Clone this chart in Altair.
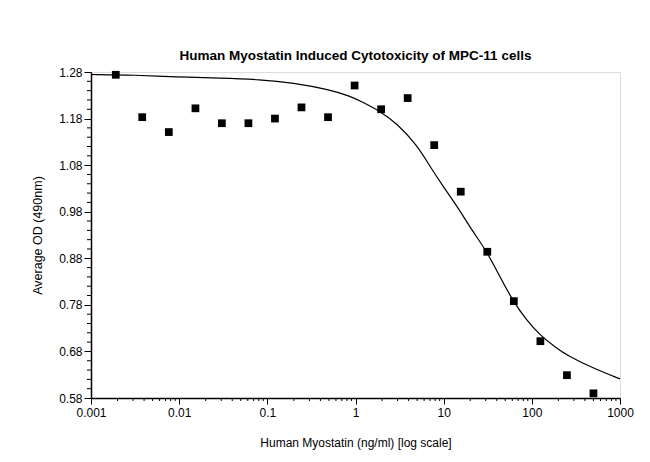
import altair as alt
import pandas as pd

# Measured points (serial dilution, ng/ml) and average OD
conc = [0.00191, 0.00381, 0.00763, 0.0153, 0.0305, 0.061, 0.122, 0.244, 0.488,
        0.977, 1.953, 3.906, 7.8125, 15.625, 31.25, 62.5, 125, 250, 500]
od = [1.274, 1.183, 1.151, 1.202, 1.170, 1.170, 1.180, 1.204, 1.183,
      1.251, 1.200, 1.224, 1.123, 1.023, 0.894, 0.788, 0.702, 0.629, 0.590]

# Fitted curve
curve_x = [0.001, 0.00316, 0.00944, 0.029, 0.0826, 0.195, 0.514, 0.866, 1.124,
           1.897, 2.93, 4.94, 7.0, 9.91, 14.66, 20.8, 30.8, 43.5, 61.7, 87.4,
           123.6, 191.3, 250.6, 493, 1000]
curve_y = [1.2746, 1.2736, 1.2693, 1.2671, 1.2639, 1.257, 1.242, 1.228, 1.218,
           1.196, 1.170, 1.124, 1.077, 1.034, 0.988, 0.941, 0.895, 0.840, 0.787,
           0.747, 0.715, 0.687, 0.672, 0.644, 0.621]

x_major = [0.001, 0.01, 0.1, 1, 10, 100, 1000]
x_minor = [k * d for d in [0.001, 0.01, 0.1, 1, 10, 100] for k in range(2, 10)]
y_major = [0.58, 0.68, 0.78, 0.88, 0.98, 1.08, 1.18, 1.28]
y_minor = [round(0.58 + 0.02 * i, 2) for i in range(36) if i % 5 != 0]

W, H = 529, 326
FONT = "Liberation Sans"

pts = pd.DataFrame({"conc": conc, "od": od})
crv = pd.DataFrame({"conc": curve_x, "od": curve_y})
xmin = pd.DataFrame({"v": x_minor})
ymin = pd.DataFrame({"v": y_minor})

xscale = alt.Scale(type="log", domain=[0.001, 1000], nice=False)
yscale = alt.Scale(domain=[0.58, 1.28], nice=False, zero=False)

xaxis = alt.Axis(values=x_major,
                 labelExpr="datum.value >= 1 ? format(datum.value, 'd') : format(datum.value, '')",
                 title="Human Myostatin (ng/ml) [log scale]", grid=False,
                 tickSize=6, labelPadding=3, titlePadding=19, labelFontSize=12,
                 titleFontSize=12, titleFontWeight="normal", labelFont=FONT, titleFont=FONT,
                 domainColor="#000", tickColor="#000", labelColor="#000", titleColor="#000",
                 domainWidth=1.5, labelFlush=False)
yaxis = alt.Axis(values=y_major, format=".2f", title="Average OD (490nm)", grid=False,
                 tickSize=7, labelPadding=2, titlePadding=14, labelFontSize=12,
                 titleFontSize=12.5, titleFontWeight="normal", labelFont=FONT, titleFont=FONT,
                 domainColor="#000", tickColor="#000", labelColor="#000", titleColor="#000",
                 domainWidth=1.5, labelFlush=False)

points = alt.Chart(pts).mark_square(size=60, color="#000", opacity=1).encode(
    x=alt.X("conc:Q", scale=xscale, axis=xaxis),
    y=alt.Y("od:Q", scale=yscale, axis=yaxis),
)
line = alt.Chart(crv).mark_line(color="#000", strokeWidth=1.2, interpolate="basis").encode(
    x=alt.X("conc:Q", scale=xscale),
    y=alt.Y("od:Q", scale=yscale),
)
xticks = alt.Chart(xmin).mark_rule(color="#000", strokeWidth=1).encode(
    x=alt.X("v:Q", scale=xscale),
    y=alt.value(H),
    y2=alt.value(H + 3),
)
yticks = alt.Chart(ymin).mark_rule(color="#000", strokeWidth=1).encode(
    y=alt.Y("v:Q", scale=yscale),
    x=alt.value(-4),
    x2=alt.value(0),
)

chart = alt.layer(line, points, xticks, yticks).properties(
    width=W, height=H,
    title=alt.TitleParams("Human Myostatin Induced Cytotoxicity of MPC-11 cells",
                          fontSize=13.5, fontWeight="bold", font=FONT, anchor="middle",
                          offset=4, color="#000"),
    autosize=alt.AutoSizeParams(type="none"),
    padding={"left": 83, "top": 64, "right": 22, "bottom": 56},
).configure_view(stroke="#333", strokeWidth=1.5).configure(background="white")

chart.save("out.html", embed_options={"renderer": "svg", "actions": False})
